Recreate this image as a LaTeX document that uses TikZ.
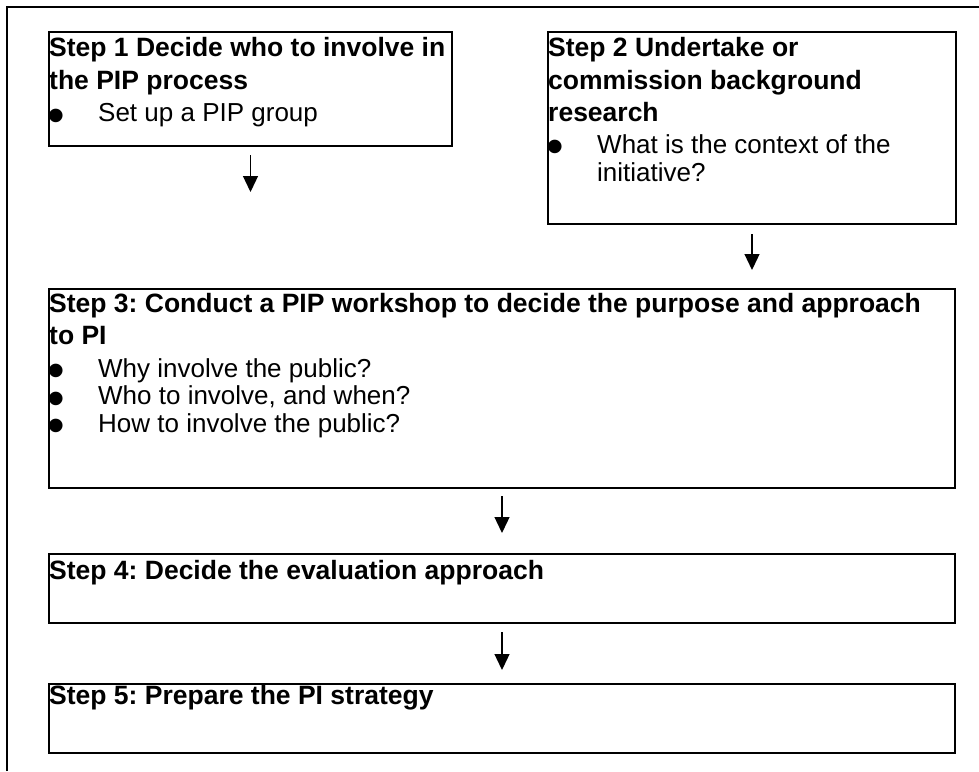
\documentclass[tikz,border=0pt]{standalone}
\usepackage{fontspec}
\setmainfont{Liberation Sans}
\frenchspacing
\usetikzlibrary{arrows.meta}
\newcommand\pipbul{\makebox[49.5pt][l]{\smash{\raisebox{-10.5pt}{\hspace*{-1.2pt}\fontsize{50}{50}\selectfont •}}}}
\begin{document}
\begin{tikzpicture}[x=1pt,y=-1pt,
  frame/.style={line width=2pt},
  box/.style={draw, line width=2pt, rectangle, inner sep=0pt, anchor=north west, minimum width=906pt},
  hd/.style={anchor=base west, inner sep=0pt, font=\fontsize{26.5}{32}\selectfont\bfseries},
  bt/.style={anchor=base west, inner sep=0pt, font=\fontsize{26}{28}\selectfont},
  arr/.style={line width=1.3pt, -{Triangle[length=16pt,width=15pt]}}]
\useasboundingbox (0,0) rectangle (979,771);
% open outer frame
\draw[frame] (7,771) -- (7,7) -- (979,7);
% boxes
\node[box, minimum width=403pt, minimum height=114pt] (b1) at (48,31) {};
\node[box, minimum width=408pt, minimum height=192pt] (b2) at (547,31) {};
\node[box, minimum height=199pt] (b3) at (48,288) {};
\node[box, minimum height=69pt] (b4) at (48,553) {};
\node[box, minimum height=69pt] (b5) at (48,683) {};
% box 1 text
\node[hd] (b1h1) at (49,56.7) {Step 1 Decide who to involve in};
\node[hd] (b1h2) at (49,89.2) {the PIP process};
\node[bt] (b1t1) at (48.5,121.7) {\pipbul Set up a PIP group};
% box 2 text
\node[hd] (b2h1) at (548,56.5) {Step 2 Undertake or};
\node[hd] (b2h2) at (548,89) {commission background};
\node[hd] (b2h3) at (548,121.5) {research};
\node[bt] (b2t1) at (547.5,153) {\pipbul What is the context of the};
\node[bt] (b2t2) at (597,181) {initiative?};
% box 3 text
\node[hd] (b3h1) at (49,312) {Step 3: Conduct a PIP workshop to decide the purpose and approach};
\node[hd] (b3h2) at (49,344.5) {to PI};
\node[bt] (b3t1) at (48.5,377) {\pipbul Why involve the public?};
\node[bt] (b3t2) at (48.5,404.5) {\pipbul Who to involve, and when?};
\node[bt] (b3t3) at (48.5,432) {\pipbul How to involve the public?};
% box 4 and 5 text
\node[hd] (b4h1) at (49,579) {Step 4: Decide the evaluation approach};
\node[hd] (b5h1) at (49,704) {Step 5: Prepare the PI strategy};
% arrows
\draw[arr, shorten <=8pt, shorten >=96pt] (b1.south) -- (b1.south |- b3.north);
\draw[arr, shorten <=9pt, shorten >=18pt] (b2.south) -- (b2.south |- b3.north);
\draw[arr, shorten <=7pt, shorten >=20pt] (b3.south) -- (b4.north);
\draw[arr, shorten <=8pt, shorten >=13pt] (b4.south) -- (b5.north);
\end{tikzpicture}
\end{document}
